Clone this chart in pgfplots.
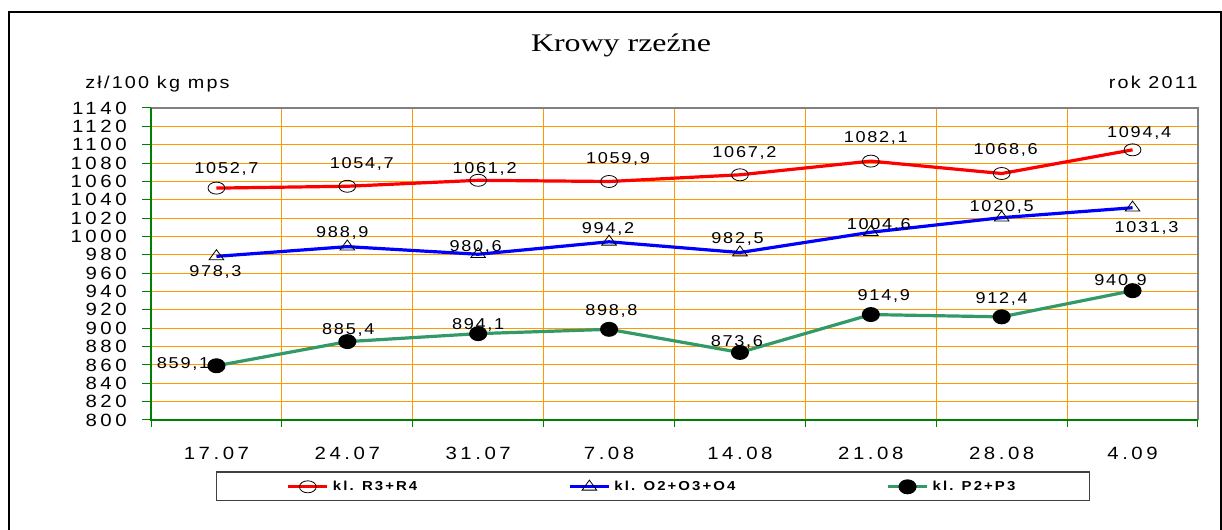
\documentclass[border=0pt]{standalone}
\usepackage{pgfplots}
\pgfplotsset{compat=1.18}
\usepackage{pgfplotstable}
\usepackage{fontspec}
\setmainfont{Liberation Sans}
\newfontfamily\serifT{Liberation Serif}[FakeStretch=1.26]
\newfontfamily\spT{Liberation Sans}[FakeStretch=1.15,LetterSpace=20]
\newfontfamily\spU{Liberation Sans}[FakeStretch=1.15,LetterSpace=13]
\newfontfamily\spL{Liberation Sans}[FakeStretch=1.15,LetterSpace=11]
\newfontfamily\spG{Liberation Sans}[FakeStretch=1.15,LetterSpace=16]
\definecolor{gridorange}{RGB}{255,153,0}
\definecolor{axisgreen}{RGB}{0,128,0}
\definecolor{pgreen}{RGB}{51,153,102}
\definecolor{axgray}{RGB}{128,128,128}

\pgfplotstableread{
x y lab dx dy
0 1052.7 1052,7 10 19
1 1054.7 1054,7 14.5 22
2 1061.2 1061,2 6.4 11.5
3 1059.9 1059,9 9 22.5
4 1067.2 1067,2 4.5 22
5 1082.1 1082,1 5 23
6 1068.6 1068,6 4 23
7 1094.4 1094,4 6.6 16.4
}\tabR
\pgfplotstableread{
x y lab dx dy
0 978.3 978,3 -1 -16
1 988.9 988,9 -5 14
2 980.6 980,6 -2.5 7
3 994.2 994,2 -1 13
4 982.5 982,5 -2.4 14
5 1004.6 1004,6 8 7
6 1020.5 1020,5 0 11
7 1031.3 1031,3 14 -20
}\tabO
\pgfplotstableread{
x y lab dx dy
0 859.1 859,1 -33.4 2
1 885.4 885,4 1 12
2 894.1 894,1 0 9
3 898.8 898,8 2.4 18.5
4 873.6 873,6 -3 10.5
5 914.9 914,9 13 19
6 912.4 912,4 0 18
7 940.9 940,9 -12 10
}\tabP

\begin{document}
\begin{tikzpicture}[x=0.75pt,y=0.75pt]
\useasboundingbox (0,0) rectangle (1222,530);
\draw[line width=1.5pt] (9,-5) -- (9,518) -- (1221,518) -- (1221,-5);
\node[anchor=base, inner sep=0pt, font=\serifT\fontsize{19}{22}\selectfont] at (621,478.3) {Krowy rzeźne};
\node[anchor=base west, inner sep=0pt, font=\spU\fontsize{12.9}{15}\selectfont] at (85,441.7) {zł/100 kg mps};
\node[anchor=base east, inner sep=0pt, font=\spU\fontsize{12.9}{15}\selectfont] at (1198,441.7) {rok 2011};
\begin{axis}[
  at={(113.25pt,82.5pt)}, anchor=south west,
  scale only axis, width=785.25pt, height=234pt,
  xmin=-0.5, xmax=7.5, ymin=800, ymax=1140,
  xtick={0,...,7},
  xticklabels={17.07,24.07,31.07,7.08,14.08,21.08,28.08,4.09},
  minor xtick={-0.5,0.5,...,7.5},
  ytick={800,820,...,1140},
  xtick pos=bottom, ytick pos=left,
  tick align=outside,
  major tick length=6.75pt,
  minor tick length=5.25pt,
  major x tick style={draw=none},
  minor x tick style={draw=axisgreen, line width=0.75pt},
  y tick style={draw=axisgreen, line width=0.75pt},
  xminorgrids=true, ymajorgrids=true, xmajorgrids=false,
  minor x grid style={gridorange, line width=0.75pt},
  y grid style={gridorange, line width=0.75pt},
  axis line style={draw=none},
  ticklabel style={font=\spT\fontsize{13.3}{15}\selectfont},
  xticklabel shift=9.75pt,
  yticklabel shift=8pt,
  /pgf/number format/assume math mode=true,
  /pgf/number format/1000 sep={},
  legend columns=3,
  legend cell align=left,
  legend style={at={(0.4795,-0.2131)}, anchor=center, draw=black!75, line width=1pt,
    font=\spG\bfseries\fontsize{9.75}{12}\selectfont,
    inner xsep=52.75pt, inner ysep=6pt,
    nodes={inner xsep=3pt, inner ysep=0pt},
    /tikz/every even column/.append style={column sep=110.25pt}},
  legend image code/.code={\draw[mark repeat=2,mark phase=2] plot coordinates {(0pt,0pt) (14.625pt,0pt) (29.25pt,0pt)};},
  nodes near coords,
  point meta=explicit symbolic,
  visualization depends on={\thisrow{dx} \as \dx},
  visualization depends on={\thisrow{dy} \as \dy},
  every node near coord/.append style={font=\spL\fontsize{11.8}{14}\selectfont, text=black, anchor=center, inner sep=0pt, xshift=\dx*0.75pt, yshift=\dy*0.75pt},
  clip=false,
]
\addplot[red, line width=2.4pt, mark=o, mark size=4.5pt, mark options={draw=black, line width=0.6pt, xscale=1.4, fill=none}] table[x=x, y=y, meta=lab] {\tabR};
\addlegendentry{kl. R3+R4}
\addplot[blue, line width=2.4pt, mark=triangle, mark size=5pt, mark options={draw=black, line width=0.6pt, xscale=1.27, fill=none}] table[x=x, y=y, meta=lab] {\tabO};
\addlegendentry{kl. O2+O3+O4}
\addplot[pgreen, line width=2.4pt, mark=*, mark size=4.4pt, mark options={draw=black, fill=black, xscale=1.26}] table[x=x, y=y, meta=lab] {\tabP};
\addlegendentry{kl. P2+P3}
\draw[axgray, line width=0.9pt] (rel axis cs:0,1) -- (rel axis cs:1,1) -- (rel axis cs:1,0);
\draw[axisgreen, line width=0.9pt] (rel axis cs:0,1) -- (rel axis cs:0,0) -- (rel axis cs:1,0);
\end{axis}
\end{tikzpicture}
\end{document}
